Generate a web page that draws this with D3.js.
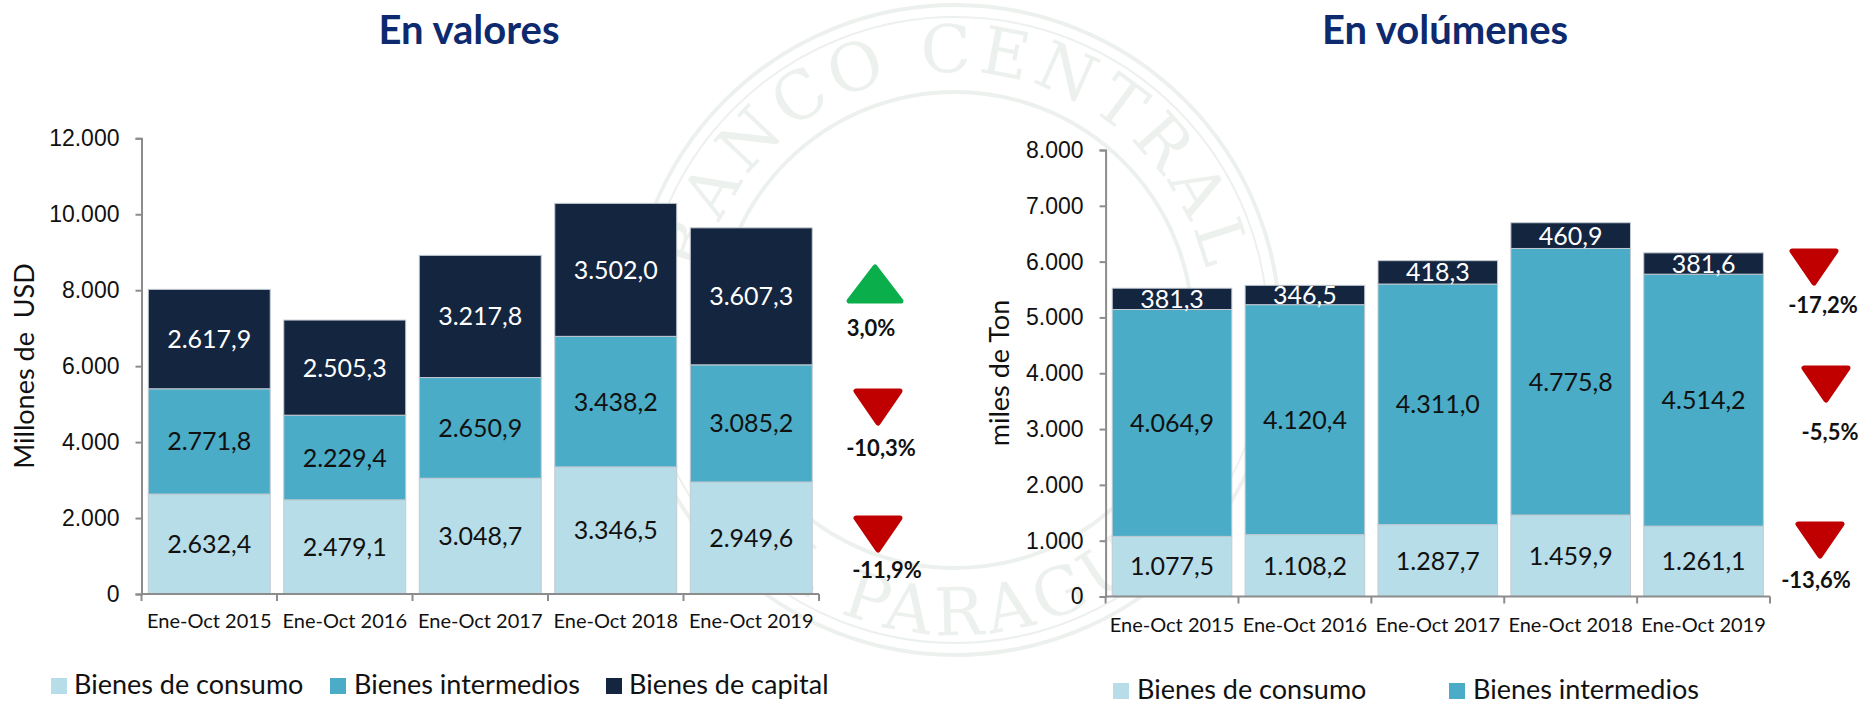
<!DOCTYPE html>
<html>
<head>
<meta charset="utf-8">
<script src="https://cdn.jsdelivr.net/npm/d3@7/dist/d3.min.js"></script>
<style>
  html, body { margin: 0; padding: 0; background: #fff; }
  svg { display: block; font-family: Lato, "Open Sans", sans-serif; }
</style>
</head>
<body>
<svg id="chart" width="1864" height="701"></svg>
<script>
// ---- data ----
const years = ['Ene-Oct 2015', 'Ene-Oct 2016', 'Ene-Oct 2017', 'Ene-Oct 2018', 'Ene-Oct 2019'];
const seriesNames = ['Bienes de consumo', 'Bienes intermedios', 'Bienes de capital'];

// En valores (millones de USD)
const valConsumo = [2632.4, 2479.1, 3048.7, 3346.5, 2949.6];
const valIntermedios = [2771.8, 2229.4, 2650.9, 3438.2, 3085.2];
const valCapital = [2617.9, 2505.3, 3217.8, 3502.0, 3607.3];
const valTicks = [0, 2000, 4000, 6000, 8000, 10000, 12000];
const valChanges = ['-11,9%', '-10,3%', '3,0%'];   // consumo, intermedios, capital

// En volúmenes (miles de Ton)
const volConsumo = [1077.5, 1108.2, 1287.7, 1459.9, 1261.1];
const volIntermedios = [4064.9, 4120.4, 4311.0, 4775.8, 4514.2];
const volCapital = [381.3, 346.5, 418.3, 460.9, 381.6];
const volTicks = [0, 1000, 2000, 3000, 4000, 5000, 6000, 7000, 8000];
const volChanges = ['-13,6%', '-5,5%', '-17,2%'];

// ---- visual constants ----
const colors = ['#b7dde8', '#4aacc6', '#13253f'];
const labelColors = ['#111', '#111', '#fff'];
const fmt = d3.formatLocale({ decimal: ',', thousands: '.', grouping: [3] });
const fmtVal = fmt.format(',.1f');
const fmtTick = fmt.format(',.0f');

const svg = d3.select('#chart');

// faint seal watermark in the background
const sealCol = '#edf1ee';
const seal = svg.append('g').attr('transform', 'translate(955,330)')
  .attr('fill', 'none').attr('stroke', sealCol);
seal.append('circle').attr('r', 325).attr('stroke-width', 4);
seal.append('circle').attr('r', 313).attr('stroke-width', 2);
seal.append('circle').attr('r', 238).attr('stroke-width', 4);
seal.append('path').attr('id', 'sealTop').attr('stroke', 'none')
  .attr('d', 'M -258,0 A 258,258 0 0,1 258,0');
seal.append('text').attr('fill', sealCol).attr('stroke', 'none')
  .style('font-family', '"DejaVu Serif", serif').style('font-size', '66px')
  .style('letter-spacing', '6px')
  .append('textPath').attr('href', '#sealTop').attr('startOffset', '50%')
  .attr('text-anchor', 'middle').text('BANCO CENTRAL');
seal.append('path').attr('id', 'sealBot').attr('stroke', 'none')
  .attr('d', 'M -305,0 A 305,305 0 0,0 305,0');
seal.append('text').attr('fill', sealCol).attr('stroke', 'none')
  .style('font-family', '"DejaVu Serif", serif').style('font-size', '66px')
  .style('letter-spacing', '6px')
  .append('textPath').attr('href', '#sealBot').attr('startOffset', '50%')
  .attr('text-anchor', 'middle').text('DEL PARAGUAY');

function drawChart(cfg) {
  const g = svg.append('g');
  const rows = years.map((y, i) => ({
    year: y,
    [seriesNames[0]]: cfg.series[0][i],
    [seriesNames[1]]: cfg.series[1][i],
    [seriesNames[2]]: cfg.series[2][i]
  }));
  const keys = seriesNames.slice(0, cfg.series.length);
  const stacked = d3.stack().keys(keys)(rows);

  const x = d3.scaleBand().domain(years).range(cfg.xRange).paddingInner(0.1).paddingOuter(0.05);
  const y = d3.scaleLinear().domain([0, d3.max(cfg.ticks)]).range(cfg.yRange);

  // bars
  stacked.forEach((layer, si) => {
    const lg = g.append('g');
    lg.selectAll('rect').data(layer).join('rect')
      .attr('x', (d) => x(d.data.year))
      .attr('width', x.bandwidth())
      .attr('y', (d) => y(d[1]))
      .attr('height', (d) => y(d[0]) - y(d[1]))
      .attr('fill', colors[si])
      .attr('stroke', '#c3cad2')
      .attr('stroke-width', 1);
    lg.selectAll('text').data(layer).join('text')
      .attr('x', (d) => x(d.data.year) + x.bandwidth() / 2)
      .attr('y', (d) => (y(d[0]) + y(d[1])) / 2)
      .attr('dy', '0.36em')
      .attr('text-anchor', 'middle')
      .attr('fill', labelColors[si])
      .style('font-size', '25px')
      .text((d) => fmtVal(d[1] - d[0]));
  });

  // y axis
  const yAxis = g.append('g').attr('transform', `translate(${cfg.xRange[0]},0)`)
    .call(d3.axisLeft(y).tickValues(cfg.ticks).tickFormat(fmtTick).tickSize(6).tickPadding(16));
  yAxis.select('.domain').attr('stroke', '#8c8c8c').attr('stroke-width', 2);
  yAxis.selectAll('.tick line').attr('stroke', '#8c8c8c').attr('stroke-width', 2);
  yAxis.selectAll('.tick text').style('font-size', '23px').attr('fill', '#111');

  // x axis with ticks at band boundaries
  const xAxis = g.append('g').attr('transform', `translate(0,${cfg.yRange[0]})`);
  xAxis.append('line').attr('x1', cfg.xRange[0]).attr('x2', cfg.xRange[1])
    .attr('stroke', '#8c8c8c').attr('stroke-width', 2);
  const bounds = years.map((yr) => x(yr) - x.step() * x.paddingInner() / 2);
  bounds[0] = cfg.xRange[0];
  bounds.push(cfg.xRange[1]);
  xAxis.selectAll('line.tk').data(bounds).join('line').attr('class', 'tk')
    .attr('x1', (d) => d).attr('x2', (d) => d).attr('y1', 0).attr('y2', 7)
    .attr('stroke', '#8c8c8c').attr('stroke-width', 2);
  xAxis.selectAll('text').data(years).join('text')
    .attr('x', (d) => x(d) + x.bandwidth() / 2)
    .attr('y', cfg.xLabelY - cfg.yRange[0])
    .attr('text-anchor', 'middle')
    .attr('fill', '#111')
    .style('font-size', '20px')
    .text((d) => d);

  // y axis title
  g.append('text')
    .attr('transform', `translate(${cfg.yTitlePos[0]},${cfg.yTitlePos[1]}) rotate(-90)`)
    .attr('text-anchor', 'middle').attr('dy', '0.35em')
    .attr('fill', '#111').style('font-size', '27px')
    .style('white-space', 'pre')
    .text(cfg.yTitle);

  // chart title
  g.append('text')
    .attr('x', cfg.titleX).attr('y', 44)
    .attr('text-anchor', 'middle')
    .attr('fill', '#0e2a6e')
    .style('font-size', '40px').style('font-weight', 'bold')
    .text(cfg.title);

  // change arrows
  cfg.changes.forEach((c, i) => {
    const a = cfg.arrows[i];
    const up = !c.startsWith('-');
    const w = up ? 52 : 44, h = up ? 34 : 32;
    const pts = up
      ? [[a.x - w / 2, a.y + h / 2], [a.x + w / 2, a.y + h / 2], [a.x, a.y - h / 2]]
      : [[a.x - w / 2, a.y - h / 2], [a.x + w / 2, a.y - h / 2], [a.x, a.y + h / 2]];
    const col = up ? '#0aae4b' : '#c00000';
    g.append('path')
      .attr('d', d3.line()(pts) + 'Z')
      .attr('fill', col).attr('stroke', col)
      .attr('stroke-width', 5).attr('stroke-linejoin', 'round');
    g.append('text')
      .attr('x', a.lx).attr('y', a.ly).attr('dy', '0.36em')
      .attr('text-anchor', 'middle').attr('fill', '#111')
      .style('font-size', '22px').style('font-weight', 'bold')
      .text(c);
  });

  // legend (the right chart only shows the items that fit)
  const leg = g.append('g');
  keys.forEach((k, i) => {
    const it = cfg.legend[i];
    if (!it) return;
    leg.append('rect').attr('x', it[0]).attr('y', cfg.legendY - 16)
      .attr('width', 16).attr('height', 16).attr('fill', colors[i]);
    leg.append('text').attr('x', it[1]).attr('y', cfg.legendY)
      .attr('fill', '#111').style('font-size', '27px').text(k);
  });
}

drawChart({
  series: [valConsumo, valIntermedios, valCapital],
  ticks: valTicks,
  xRange: [141.5, 819],
  yRange: [594, 138.3],
  xLabelY: 628,
  yTitle: 'Millones de  USD',
  yTitlePos: [25, 366],
  title: 'En valores',
  titleX: 469,
  changes: valChanges,
  arrows: [
    { x: 878, y: 534, lx: 887, ly: 570 },
    { x: 878, y: 407, lx: 881, ly: 448 },
    { x: 875, y: 284, lx: 871, ly: 328 }
  ],
  legend: [[51, 74], [330, 354], [606, 629]],
  legendY: 694
});

drawChart({
  series: [volConsumo, volIntermedios, volCapital],
  ticks: volTicks,
  xRange: [1105.6, 1770],
  yRange: [596.5, 150],
  xLabelY: 632,
  yTitle: 'miles de Ton',
  yTitlePos: [1000, 373],
  title: 'En volúmenes',
  titleX: 1445,
  changes: volChanges,
  arrows: [
    { x: 1820, y: 540, lx: 1816, ly: 580 },
    { x: 1826, y: 384, lx: 1830, ly: 432 },
    { x: 1814, y: 267, lx: 1823, ly: 305 }
  ],
  legend: [[1113, 1137], [1449, 1473]],
  legendY: 699
});
</script>
</body>
</html>
